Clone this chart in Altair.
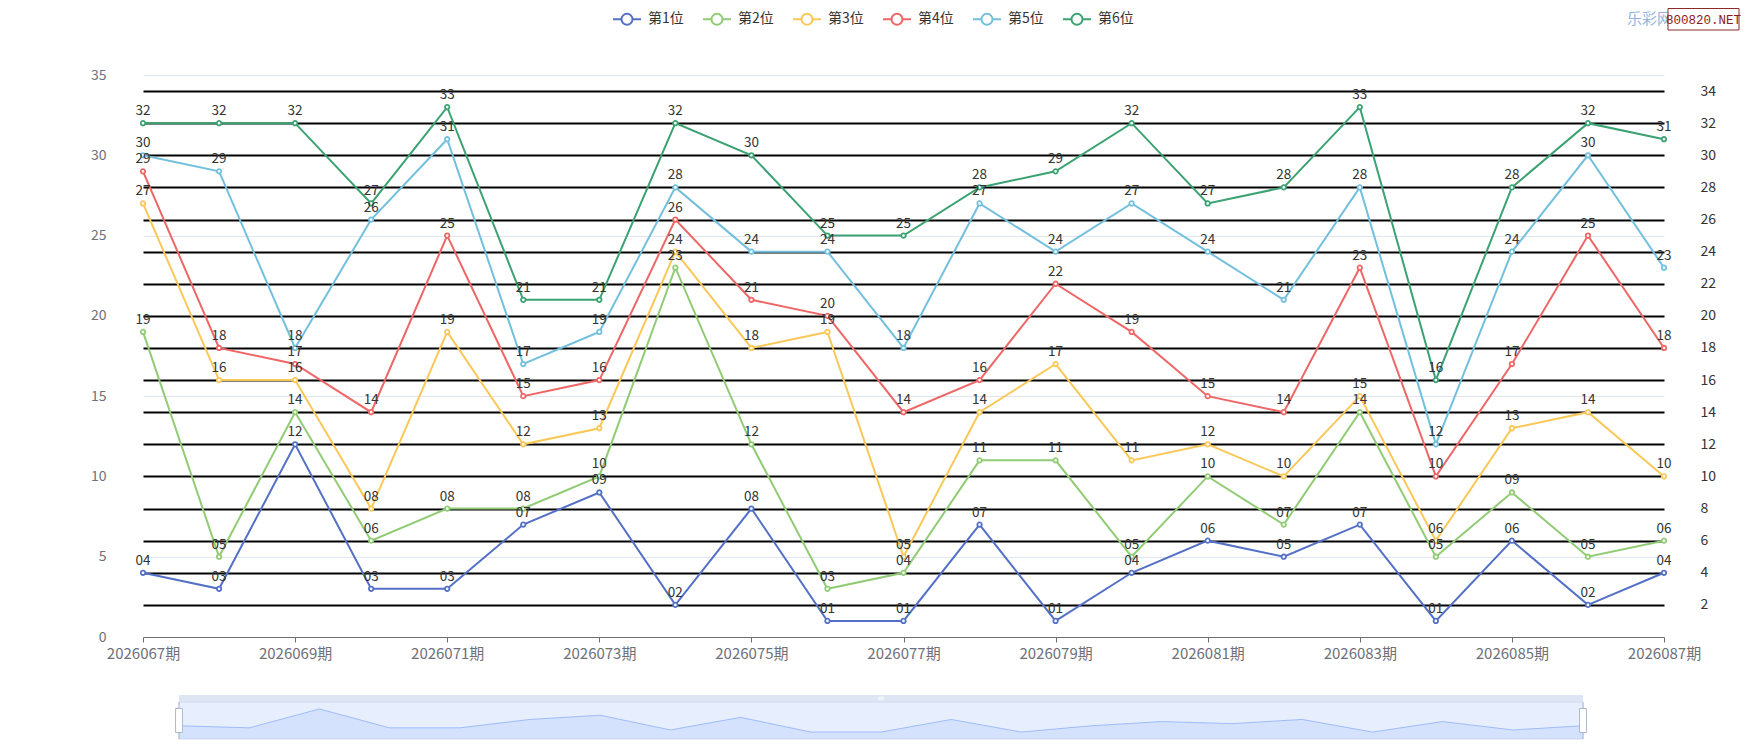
import altair as alt
import pandas as pd

# ---------------- data ----------------
periods = ["2026067期", "2026068期", "2026069期", "2026070期", "2026071期", "2026072期",
           "2026073期", "2026074期", "2026075期", "2026076期", "2026077期", "2026078期",
           "2026079期", "2026080期", "2026081期", "2026082期", "2026083期", "2026084期",
           "2026085期", "2026086期", "2026087期"]
tick_periods = ["2026067期", "2026069期", "2026071期", "2026073期", "2026075期", "2026077期",
                "2026079期", "2026081期", "2026083期", "2026085期", "2026087期"]

series_names = ["第1位", "第2位", "第3位", "第4位", "第5位", "第6位"]
series_colors = ["#5470c6", "#91cc75", "#fac858", "#ee6666", "#73c0de", "#3ba272"]

pos1 = [4, 3, 12, 3, 3, 7, 9, 2, 8, 1, 1, 7, 1, 4, 6, 5, 7, 1, 6, 2, 4]
pos2 = [19, 5, 14, 6, 8, 8, 10, 23, 12, 3, 4, 11, 11, 5, 10, 7, 14, 5, 9, 5, 6]
pos3 = [27, 16, 16, 8, 19, 12, 13, 24, 18, 19, 5, 14, 17, 11, 12, 10, 15, 6, 13, 14, 10]
pos4 = [29, 18, 17, 14, 25, 15, 16, 26, 21, 20, 14, 16, 22, 19, 15, 14, 23, 10, 17, 25, 18]
pos5 = [30, 29, 18, 26, 31, 17, 19, 28, 24, 24, 18, 27, 24, 27, 24, 21, 28, 12, 24, 30, 23]
pos6 = [32, 32, 32, 27, 33, 21, 21, 32, 30, 25, 25, 28, 29, 32, 27, 28, 33, 16, 28, 32, 31]

left_ticks = [0, 5, 10, 15, 20, 25, 30, 35]
right_ticks = [2, 4, 6, 8, 10, 12, 14, 16, 18, 20, 22, 24, 26, 28, 30, 32, 34]

series_values = [pos1, pos2, pos3, pos4, pos5, pos6]
rows = []
for name, vals in zip(series_names, series_values):
    for p, v in zip(periods, vals):
        rows.append({"period": p, "series": name, "value": v, "label": f"{v:02d}"})
df = pd.DataFrame(rows)

# data shadow of the zoom slider (first series, as ECharts does)
shadow_df = pd.DataFrame({"idx": list(range(len(periods))), "value": pos1})
span = max(pos1) - min(pos1)
lo = min(pos1) - 0.3 * span
hi = max(pos1) + 0.3 * span
last_idx = len(periods) - 1
frame_df = pd.DataFrame({"start": [0], "end": [last_idx]})
handles_df = pd.DataFrame({"idx": [0, last_idx]})
mid_df = pd.DataFrame({"idx": [last_idx / 2]})
one = pd.DataFrame({"k": [0]})

# ---------------- layout ----------------
W, H = 1521, 562
FONT = "Noto Sans CJK SC"

x_scale = alt.Scale(type="point", padding=0, domain=periods)
y_scale = alt.Scale(domain=[0, 35], nice=False, zero=False)

x_axis = alt.Axis(values=tick_periods, title=None, labelAngle=0, labelColor="#6E7079",
                  labelFontSize=15, labelFont=FONT, domainColor="#6E7079", tickColor="#6E7079",
                  tickSize=5, labelPadding=4, grid=False, labelOverlap=False)
left_axis = alt.Axis(values=left_ticks, title=None, domain=False, ticks=False, labelPadding=37,
                     labelColor="#6E7079", labelFontSize=14, labelFont=FONT, grid=True,
                     gridColor="#E0E6F1", gridWidth=1)
right_axis = alt.Axis(orient="right", values=right_ticks, title=None, domain=False, ticks=False,
                      labelPadding=36, labelColor="#333333", labelFontSize=14, labelFont=FONT,
                      grid=True, gridColor="#000000", gridWidth=2)

# legend icon: short line with a hollow circle, drawn wider than its 20px layout box
LEG_PATH = ("M-1.4,0L-0.55,0M0.55,0L1.4,0M-0.55,0A0.55,0.55,0,1,0,0.55,0"
            "A0.55,0.55,0,1,0,-0.55,0Z")
legend = alt.Legend(title=None, orient="none", legendX=473, legendY=-67, direction="horizontal",
                    symbolType=LEG_PATH, symbolSize=400, symbolStrokeWidth=2,
                    symbolFillColor="white", labelFontSize=14, labelColor="#333333",
                    labelFont=FONT, labelOffset=10, columnPadding=15, padding=0)

color_scale = alt.Scale(domain=series_names, range=series_colors)

lines = alt.Chart(df).mark_line(strokeWidth=2).encode(
    x=alt.X("period:N", scale=x_scale, axis=x_axis),
    y=alt.Y("value:Q", scale=y_scale, axis=left_axis),
    color=alt.Color("series:N", scale=color_scale, legend=legend),
)

points = alt.Chart(df).mark_point(filled=True, fill="white", size=20, strokeWidth=1.8,
                                  opacity=1).encode(
    x=alt.X("period:N", scale=x_scale, axis=None),
    y=alt.Y("value:Q", scale=y_scale, axis=None),
    stroke=alt.Stroke("series:N", scale=color_scale, legend=None),
)

labels = alt.Chart(df).mark_text(baseline="bottom", dy=-5, fontSize=13.5, color="#333333",
                                 font=FONT).encode(
    x=alt.X("period:N", scale=x_scale, axis=None),
    y=alt.Y("value:Q", scale=y_scale, axis=right_axis),
    text="label:N",
)

# ---------------- zoom slider ----------------
sx = alt.Scale(domain=[0, last_idx], range=[36, 1440], nice=False, zero=False)
sy = alt.Scale(domain=[lo, hi], range=[664, 627], nice=False, zero=False)

strip = alt.Chart(frame_df).mark_rect(color="#D2DBEE", opacity=0.7).encode(
    x=alt.X("start:Q", scale=sx, axis=None), x2="end:Q",
    y=alt.value(620), y2=alt.value(627))
filler = alt.Chart(frame_df).mark_rect(fill="#87AFFF", fillOpacity=0.2, stroke="#D2DBEE",
                                       strokeWidth=1).encode(
    x=alt.X("start:Q", scale=sx, axis=None), x2="end:Q",
    y=alt.value(627), y2=alt.value(664))
shadow = alt.Chart(shadow_df).mark_area(
    color="#8FB0F7", fillOpacity=0.2,
    line=alt.OverlayMarkDef(color="#8FB0F7", strokeWidth=0.8)).encode(
    x=alt.X("idx:Q", scale=sx, axis=None),
    y=alt.Y("value:Q", scale=sy, axis=None),
    y2=alt.datum(lo))
handle_lines = alt.Chart(handles_df).mark_rule(color="#ACB8D1", strokeWidth=1).encode(
    x=alt.X("idx:Q", scale=sx, axis=None), y=alt.value(627), y2=alt.value(664))
HANDLE_PATH = "M-0.23,-0.8L0.23,-0.8L0.23,0.8L-0.23,0.8Z"
handle_boxes = alt.Chart(handles_df).mark_point(shape=HANDLE_PATH, filled=True, fill="white",
                                                stroke="#ACB8D1", strokeWidth=1, size=900,
                                                opacity=1).encode(
    x=alt.X("idx:Q", scale=sx, axis=None), y=alt.value(645.5))
BARS = ("M-0.7,-0.6L-0.4,-0.6L-0.4,0.6L-0.7,0.6Z M-0.15,-0.6L0.15,-0.6L0.15,0.6L-0.15,0.6Z "
        "M0.4,-0.6L0.7,-0.6L0.7,0.6L0.4,0.6Z")
move_icon = alt.Chart(mid_df).mark_point(shape=BARS, filled=True, fill="#FFFFFF", size=49,
                                         opacity=0.9, strokeWidth=0).encode(
    x=alt.X("idx:Q", scale=sx, axis=None), y=alt.value(623.5))

# ---------------- watermark ----------------
wm_text = alt.Chart(one).mark_text(text="乐彩网", align="left", baseline="middle", fontSize=15,
                                   color="#8EB4DC", font=FONT).encode(
    x=alt.value(1484), y=alt.value(-56))
wm_box = alt.Chart(one).mark_rect(fill="white", stroke="#8B2A2A", strokeWidth=1).encode(
    x=alt.value(1525), x2=alt.value(1596), y=alt.value(-66.5), y2=alt.value(-45))
wm_net = alt.Chart(one).mark_text(text="800820.NET", align="center", baseline="middle",
                                  fontSize=12.5, font="Liberation Mono", color="#8B1A1A").encode(
    x=alt.value(1560.5), y=alt.value(-55))

chart = alt.layer(
    lines, points, labels,
    strip, filler, shadow, handle_lines, handle_boxes, move_icon,
    wm_text, wm_box, wm_net,
).resolve_scale(
    x="independent", y="independent"
).properties(
    width=W, height=H,
    autosize=alt.AutoSizeParams(type="none"),
    padding={"left": 135, "top": 67, "right": 78, "bottom": 103},
).configure(
    font=FONT
).configure_view(
    stroke=None
)

chart.save("out.html", embed_options={"renderer": "svg", "actions": False})
